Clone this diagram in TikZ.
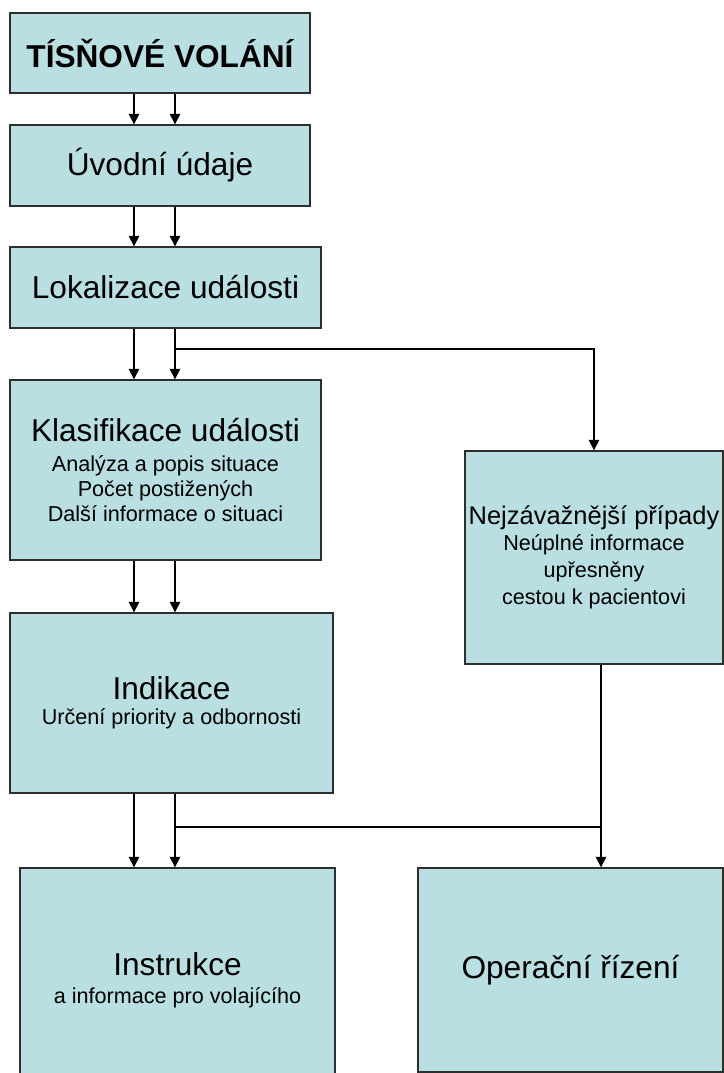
\documentclass[tikz,border=0pt]{standalone}
\usepackage{fontspec}
\setmainfont{Liberation Sans}
\usepackage{tikz}
\usetikzlibrary{arrows.meta,positioning}
\usepackage{xcolor}
\definecolor{BoxCyan}{HTML}{B9DFE2}
\definecolor{EdgeGray}{HTML}{2E2E2E}
\newcommand{\subtxt}{\fontsize{12.3}{14.5}\selectfont}
\newcommand{\ttltxt}{\fontsize{18}{21}\selectfont}

\begin{document}
\begin{tikzpicture}[x=0.02cm, y=-0.02cm,
    box/.style={draw=EdgeGray, fill=BoxCyan, line width=0.8pt, align=center, inner sep=2pt, font=\subtxt},
    head/.style={box, font=\ttltxt},
    arr/.style={-{Triangle[length=6pt, width=6pt]}, line width=0.8pt},
    link/.style={line width=0.8pt}
  ]
    \useasboundingbox (0,0) rectangle (724,1073);
    \clip (0,0) rectangle (724,1073);

    \node[head, font=\bfseries\ttltxt, minimum width=6cm, minimum height=1.6cm] (tisen) at (160,53) {TÍSŇOVÉ VOLÁNÍ};
    \node[head, minimum width=6cm, minimum height=1.62cm] (uvod) at (160,165.5) {Úvodní údaje};
    \node[head, minimum width=6.22cm, minimum height=1.62cm] (lokal) at (165.5,287.5) {Lokalizace události};
    \node[box, minimum width=6.22cm, minimum height=3.6cm] (klasif) at (165.5,470) {{\ttltxt Klasifikace události}\\[2.5pt]Analýza a popis situace\\Počet postižených\\Další informace o situaci};
    \node[box, minimum width=6.46cm, minimum height=3.6cm] (indik) at (171.5,703) {{\ttltxt Indikace}\\Určení priority a odbornosti};
    \node[box, minimum width=5.16cm, minimum height=4.26cm] (zavaz) at (594,557.5) {{\fontsize{14.5}{17}\selectfont Nejzávažnější případy}\\Neúplné informace\\[1pt]upřesněny\\[1pt]cestou k pacientovi};
    \node[box, minimum width=6.3cm, minimum height=4.48cm] (instr) at (177.5,980) {{\ttltxt Instrukce}\\[1.5pt]a informace pro volajícího};
    \node[head, minimum width=6.1cm, minimum height=4.08cm] (operac) at (570.5,970) {Operační řízení};

    \coordinate (laneA) at (134,0);
    \coordinate (laneB) at (175,0);
    \coordinate (laneC) at (601,0);
    \coordinate (fork1) at (175,349);
    \coordinate (fork2) at (175,827);

    \draw[arr] (tisen.south -| laneA) -- (uvod.north -| laneA);
    \draw[arr] (tisen.south -| laneB) -- (uvod.north -| laneB);
    \draw[arr] (uvod.south -| laneA) -- (lokal.north -| laneA);
    \draw[arr] (uvod.south -| laneB) -- (lokal.north -| laneB);
    \draw[arr] (lokal.south -| laneA) -- (klasif.north -| laneA);
    \draw[arr] (lokal.south -| laneB) -- (klasif.north -| laneB);
    \draw[arr] (klasif.south -| laneA) -- (indik.north -| laneA);
    \draw[arr] (klasif.south -| laneB) -- (indik.north -| laneB);
    \draw[arr] (indik.south -| laneA) -- (instr.north -| laneA);
    \draw[arr] (indik.south -| laneB) -- (instr.north -| laneB);

    % side branches
    \draw[arr] (fork1) -| (zavaz.north);
    \draw[arr] (zavaz.south -| laneC) -- (operac.north -| laneC);
    \draw[link] (fork2) -- (fork2 -| laneC);
  \end{tikzpicture}
\end{document}
